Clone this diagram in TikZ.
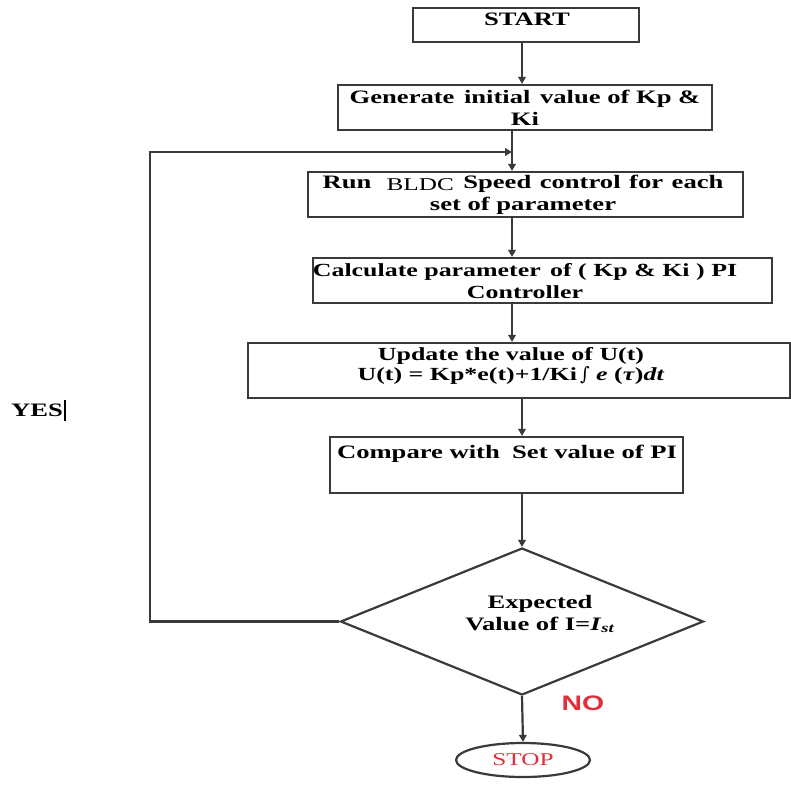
\documentclass[tikz,border=0pt]{standalone}
\usepackage{fontspec}
\setmainfont{Liberation Serif}[FakeStretch=1.4]
\newfontfamily\nosans{Liberation Sans}[FakeStretch=1.35]
\newfontfamily\symf{DejaVu Serif}
\usetikzlibrary{shapes.geometric,arrows.meta}
\definecolor{ln}{HTML}{3A3A3A}
\definecolor{redt}{HTML}{E0303A}
\tikzset{
  box/.style={draw=ln, line width=2.2pt, inner sep=0pt},
  txt/.style={align=center, inner sep=0pt, font=\fontsize{19}{22}\selectfont\bfseries},
  arr/.style={draw=ln, line width=2.2pt, -{Triangle[length=7pt,width=7.5pt]}}
}
\begin{document}
\begin{tikzpicture}[x=1pt,y=-1pt]
\path[use as bounding box, fill=white] (0,0) rectangle (791,790);

% boxes
\node[box, minimum width=226, minimum height=34] (start) at (526,25) {};
\node[box, minimum width=374, minimum height=45] (gen) at (525,107.5) {};
\node[box, minimum width=435, minimum height=45] (run) at (525.5,194.5) {};
\node[box, minimum width=459, minimum height=45] (calc) at (542.5,280.5) {};
\node[box, minimum width=542, minimum height=55] (upd) at (519,370.5) {};
\node[box, minimum width=353, minimum height=56] (cmp) at (506.5,465) {};
\node[box, diamond, minimum width=363, minimum height=147] (dia) at (522,621.5) {};
\node[box, ellipse, minimum width=134, minimum height=34] (stop) at (523,760) {};

% texts
\node[txt] (tstart) at (527,19) {START};
\node[txt] (tgen) at (525,108) {Generate\hspace{0.15em} initial\hspace{0.15em} value of Kp \&\\Ki};
\node[txt] (trun) at (523,195) {Run\hspace{0.8em}{\mdseries\fontsize{18}{20}\selectfont\raisebox{-2pt}{BLDC}}\hspace{0.5em}Speed\hspace{0.1em} control\hspace{0.1em} for\hspace{0.1em} each\\set of parameter};
\node[txt, font=\fontsize{18.5}{22}\selectfont\bfseries] (tcalc) at (525,281) {Calculate parameter\hspace{0.15em} of ( Kp \& Ki ) PI\\Controller};
\node[txt, font=\fontsize{18.5}{20}\selectfont\bfseries] (tupd) at (511,366) {Update the value of U(t)\\U(t) = Kp*e(t)+1/Ki\,{\symf\mdseries\itshape ∫} \textit{e} (\textit{τ})\textit{dt}};
\node[txt] (tcmp) at (507,454) {Compare with\hspace{0.3em} Set value of PI};
\node[txt] (tdia) at (540,614) {Expected\\Value of I=\textit{I}\textsubscript{\textit{st}}};
\node[txt, font=\fontsize{18}{20}\selectfont, text=redt] (tstop) at (523,760) {STOP};
\node[txt, font=\fontsize{21}{24}\selectfont\nosans\bfseries, text=redt] (tno) at (583,703) {NO};
\node[txt, anchor=west] (tyes) at (11,410) {YES\kern1pt\rule[-4pt]{2.5pt}{21pt}};

% x positions of connectors
\coordinate (xa) at (522,0);
\coordinate (xb) at (512,0);
\coordinate (xc) at (522,0);
\coordinate (lc) at (150,152);
\coordinate (lj) at (512,152);

% connectors
\draw[arr] (start.south -| xa) -- (gen.north -| xa);
\draw[arr] (gen.south -| xb) -- (run.north -| xb);
\draw[arr] (run.south -| xb) -- (calc.north -| xb);
\draw[arr] (calc.south -| xb) -- (upd.north -| xb);
\draw[arr] (upd.south -| xc) -- (cmp.north -| xc);
\draw[arr] (cmp.south -| dia.north) -- (dia.north);
\draw[arr] (dia.south) -- (stop.north);
\draw[arr] (dia.west) -| (lc) -- (lj);
\end{tikzpicture}
\end{document}
